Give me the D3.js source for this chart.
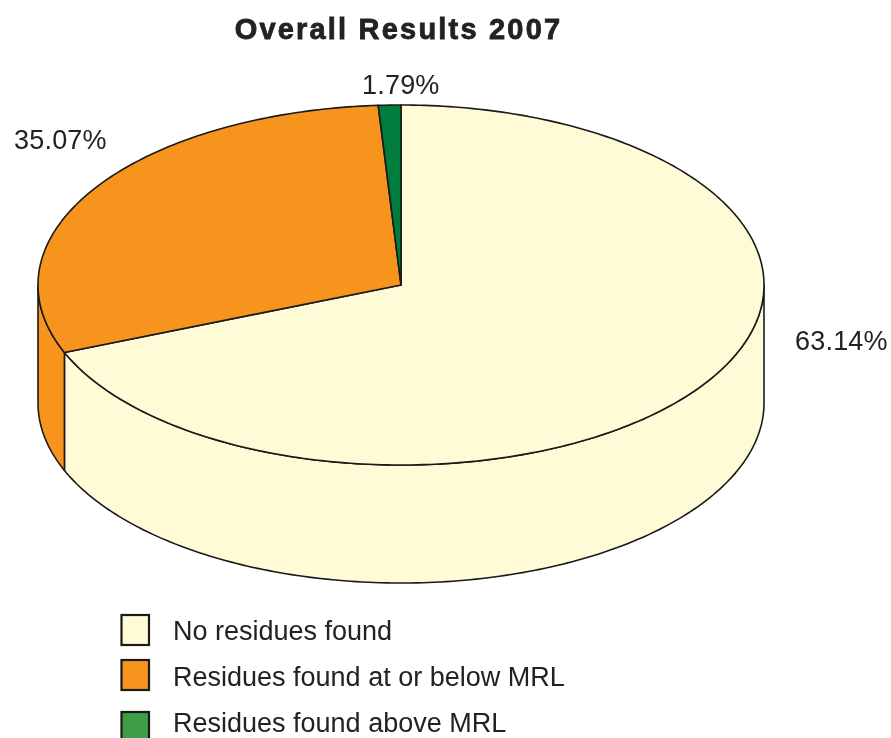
<!DOCTYPE html>
<html>
<head>
<meta charset="utf-8">
<script src="https://cdn.jsdelivr.net/npm/d3@7"></script>
<style>
	html, body { margin: 0; padding: 0; background: white; }
	svg { display: block; filter: blur(0.5px); }
	text { font-family: 'Liberation Sans', Arial, sans-serif; fill: #222; }
</style>
</head>
<body>
<div id="chart"></div>
<script>
var title = 'Overall Results 2007';
var categories = ['No residues found', 'Residues found at or below MRL', 'Residues found above MRL'];
var values = [63.14, 35.07, 1.79];
var value_labels = ['63.14%', '35.07%', '1.79%'];
var colors = ['#fffbd6', '#f7941d', '#007c3c'];
var legend_colors = ['#fffbd6', '#f7941d', '#3f9c47'];

var width = 891;
var height = 738;
var center = {x: 401, y: 285};
var depth = 118;

var svg = d3.select('#chart')
	.append('svg')
		.attr('width', width)
		.attr('height', height);

// the printed pie is drawn in perspective, so share of total -> ellipse angle is not linear
var angle = d3.scaleLinear()
	.domain([0, 63.14, 98.21, 100])
	.range([0, 248 * Math.PI / 180, 356.4 * Math.PI / 180, 2 * Math.PI]);

var x = d3.scaleLinear().domain([-1, 1]).range([center.x - 363, center.x + 363]);
var y = d3.scaleLinear().domain([-1, 1]).range([center.y - 180, center.y + 180]);

var slices = d3.pie().sort(null).value(function(d) { return d; })(values);
slices.forEach(function(d) {
	d.from = angle(d.startAngle / (2 * Math.PI) * 100);
	d.to = angle(d.endAngle / (2 * Math.PI) * 100);
});

var rim = function(from, to, drop) {
	var n = Math.max(2, Math.ceil((to - from) * 60));
	return d3.range(n + 1).map(function(i) {
		var a = from + (to - from) * i / n;
		return [x(Math.sin(a)), y(-Math.cos(a)) + drop];
	});
};

var line = d3.line().curve(d3.curveLinear);

// side walls, only the part of each slice that faces the viewer
svg.append('g')
	.selectAll('path')
	.data(slices.filter(function(d) { return d.to > Math.PI / 2 && d.from < 3 * Math.PI / 2; }))
	.enter()
	.append('path')
		.attr('d', function(d) {
			var from = Math.max(d.from, Math.PI / 2);
			var to = Math.min(d.to, 3 * Math.PI / 2);
			return line(rim(from, to, 0).concat(rim(from, to, depth).reverse())) + 'Z';
		})
		.style('fill', function(d) { return colors[d.index]; })
		.style('stroke', '#1a1a1a')
		.style('stroke-width', 1.6)
		.style('stroke-linejoin', 'round');

// top face
svg.append('g')
	.selectAll('path')
	.data(slices)
	.enter()
	.append('path')
		.attr('d', function(d) {
			return line([[center.x, center.y]].concat(rim(d.from, d.to, 0))) + 'Z';
		})
		.style('fill', function(d) { return colors[d.index]; })
		.style('stroke', '#1a1a1a')
		.style('stroke-width', 1.6)
		.style('stroke-linejoin', 'round');

// title
svg.append('text')
	.attr('x', 398.5)
	.attr('y', 39)
	.attr('text-anchor', 'middle')
	.style('font-size', '29px')
	.style('font-weight', 'bold')
	.style('letter-spacing', '2.2px')
	.style('stroke', '#222')
	.style('stroke-width', 0.8)
	.text(title);

// value labels
var label_pos = [[795, 350], [14, 149], [362, 94]];
svg.append('g')
	.selectAll('text')
	.data(value_labels)
	.enter()
	.append('text')
		.attr('x', function(d, i) { return label_pos[i][0]; })
		.attr('y', function(d, i) { return label_pos[i][1]; })
		.style('font-size', '27px')
		.style('letter-spacing', '0.2px')
		.text(function(d) { return d; });

// legend
var swatch_top = [615, 660, 712];
var legend_base = [640, 686, 732];
svg.append('g')
	.selectAll('rect')
	.data(categories)
	.enter()
	.append('rect')
		.attr('x', 121.5)
		.attr('y', function(d, i) { return swatch_top[i]; })
		.attr('width', 27.5)
		.attr('height', 30)
		.style('fill', function(d, i) { return legend_colors[i]; })
		.style('stroke', '#1a1a1a')
		.style('stroke-width', 2.2);
svg.append('g')
	.selectAll('text')
	.data(categories)
	.enter()
	.append('text')
		.attr('x', 173)
		.attr('y', function(d, i) { return legend_base[i]; })
		.style('font-size', '27px')
		.text(function(d) { return d; });
</script>
</body>
</html>
